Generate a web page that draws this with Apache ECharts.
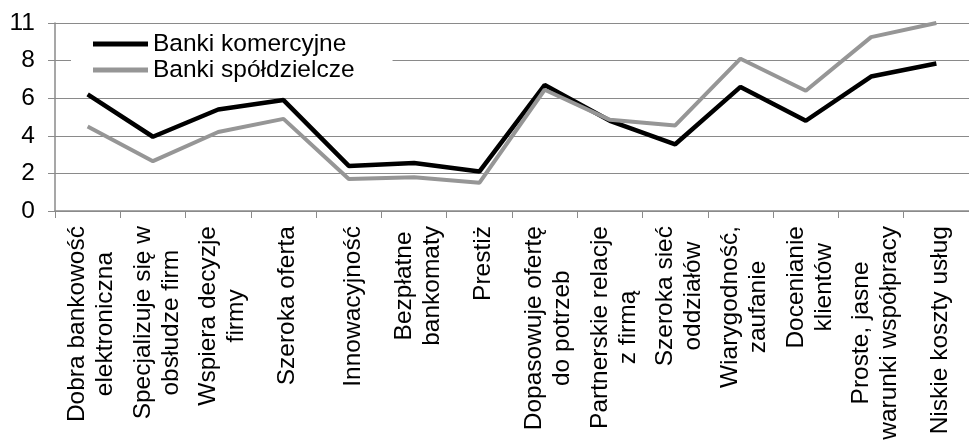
<!DOCTYPE html>
<html>
<head>
<meta charset="utf-8">
<script src="https://cdn.jsdelivr.net/npm/echarts@6.0.0/dist/echarts.min.js"></script>
<style>
  html, body { margin: 0; padding: 0; background: #fff; }
  #chart { width: 969px; height: 445px; }
</style>
</head>
<body>
<div id="chart"></div>
<script>
// kategorie (oś X)
const categories = [
  'Dobra bankowość\nelektroniczna',
  'Specjalizuje się w\nobsłudze firm',
  'Wspiera decyzje\nfirmy',
  'Szeroka oferta',
  'Innowacyjność',
  'Bezpłatne\nbankomaty',
  'Prestiż',
  'Dopasowuje ofertę\ndo potrzeb',
  'Partnerskie relacje\nz firmą',
  'Szeroka sieć\noddziałów',
  'Wiarygodność,\nzaufanie',
  'Docenianie\nklientów',
  'Proste, jasne\nwarunki współpracy',
  'Niskie koszty usług'
]
const seriesNames = ['Banki komercyjne', 'Banki spółdzielcze']
const komercyjne = [6.2, 3.95, 5.4, 5.9, 2.4, 2.55, 2.1, 6.7, 4.8, 3.55, 6.6, 4.8, 7.15, 7.85]
const spoldzielcze = [4.5, 2.65, 4.2, 4.9, 1.7, 1.8, 1.5, 6.45, 4.85, 4.55, 8.1, 6.4, 9.25, 10]
// etykiety osi Y (tak jak na oryginale, górna opisana jako 11)
const yTickLabels = ['0', '2', '4', '6', '8', '11']

const font = 'Liberation Sans, Arial, sans-serif'
const fs = 24.5
const gray = '#8a8a8a'

const chart = echarts.init(document.getElementById('chart'))
chart.setOption({
  animation: false,
  grid: { left: 55, right: -4, top: 23, bottom: 234 },
  legend: {
    data: seriesNames,
    orient: 'vertical',
    left: 71,
    top: 30,
    padding: [1, 38, 2, 22],
    backgroundColor: '#fff',
    icon: 'rect',
    itemWidth: 55,
    itemHeight: 5,
    itemGap: 0,
    textStyle: { fontFamily: font, fontSize: fs, color: '#000', lineHeight: 26 }
  },
  xAxis: {
    type: 'category',
    data: categories,
    axisLine: { lineStyle: { color: gray, width: 1.5 } },
    axisTick: { show: true, length: 7, lineStyle: { color: gray } },
    axisLabel: {
      interval: 0,
      rotate: 90,
      margin: 15,
      padding: [8, 0, 0, 0],
      color: '#000',
      fontFamily: font,
      fontSize: fs,
      lineHeight: 28,
      // każda linia wyśrodkowana w bloku
      formatter: v => v.split('\n').map(l => '{c|' + l + '}').join('\n'),
      rich: { c: { align: 'center', fontFamily: font, fontSize: fs, lineHeight: 28, color: '#000' } }
    }
  },
  yAxis: {
    type: 'value',
    min: 0,
    max: 10,
    interval: 2,
    axisLine: { show: true, lineStyle: { color: gray, width: 1.5 } },
    axisTick: { show: true, length: 7, lineStyle: { color: gray } },
    splitLine: { lineStyle: { color: gray, width: 1 } },
    axisLabel: {
      margin: 20,
      color: '#000',
      fontFamily: font,
      fontSize: fs,
      formatter: v => yTickLabels[Math.round(v / 2)]
    }
  },
  series: [
    {
      name: seriesNames[0],
      type: 'line',
      data: komercyjne,
      symbol: 'none',
      color: '#000',
      lineStyle: { color: '#000', width: 4.5 }
    },
    {
      name: seriesNames[1],
      type: 'line',
      data: spoldzielcze,
      symbol: 'none',
      color: '#969696',
      lineStyle: { color: '#969696', width: 4 }
    }
  ]
})
</script>
</body>
</html>
